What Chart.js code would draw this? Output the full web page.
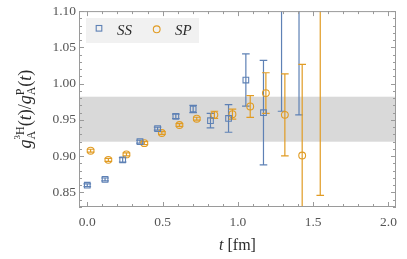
<!DOCTYPE html>
<html>
<head>
<meta charset="utf-8">
<script src="https://cdn.jsdelivr.net/npm/chart.js@4/dist/chart.umd.min.js"></script>
<style>
  html, body { margin: 0; padding: 0; background: #fff; }
  #wrap { width: 407px; height: 259px; }
</style>
</head>
<body>
<div id="wrap"><canvas id="chart" width="407" height="259"></canvas></div>
<script>
// ---- data ----
const ssT   = [0.000, 0.118, 0.235, 0.350, 0.467, 0.588, 0.703, 0.818, 0.938, 1.053, 1.170, 1.290, 1.406];
const ssVal = [0.860, 0.868, 0.895, 0.920, 0.938, 0.955, 0.965, 0.949, 0.952, 1.005, 0.960, 1.140, 1.160];
const ssErr = [0.002, 0.002, 0.003, 0.002, 0.002, 0.003, 0.005, 0.010, 0.019, 0.036, 0.072, 0.178, 0.203];

const spT   = [0.022, 0.140, 0.260, 0.379, 0.495, 0.612, 0.727, 0.844, 0.964, 1.082, 1.186, 1.312, 1.427, 1.547];
const spVal = [0.9076, 0.895, 0.9025, 0.918, 0.932, 0.943, 0.9517, 0.957, 0.958, 0.9686, 0.987, 0.957, 0.901, 1.130];
const spErr = [0.002, 0.002, 0.002, 0.002, 0.002, 0.002, 0.002, 0.005, 0.007, 0.015, 0.028, 0.0565, 0.1255, 0.284];

const bandLow = 0.92;
const bandHigh = 0.982;

const xTicks = [0.0, 0.5, 1.0, 1.5, 2.0];
const yTicks = [0.85, 0.90, 0.95, 1.00, 1.05, 1.10];

const BLUE = '#5e81b5';
const ORANGE = '#e19c24';
const SERIF = '"Liberation Serif", "DejaVu Serif", serif';

// minor ticks, every 0.1 on x and 0.01 on y
const xMinor = [];
for (let i = 0; i <= 20; i++) xMinor.push(i / 10);
const yMinor = [];
for (let i = 83; i <= 110; i++) yMinor.push(i / 100);

const toPoints = (xs, ys, errs) => xs.map((x, i) => ({ x, y: ys[i], err: errs[i] }));

// ----- band behind everything -----
const bandPlugin = {
  id: 'band',
  beforeDatasetsDraw(chart) {
    const { ctx, chartArea: a, scales: { y } } = chart;
    const top = y.getPixelForValue(bandHigh);
    const bot = y.getPixelForValue(bandLow);
    ctx.save();
    ctx.fillStyle = '#d9d9d9';
    ctx.fillRect(a.left, top, a.right - a.left, bot - top);
    ctx.restore();
  }
};

// ----- error bars -----
const errorBarPlugin = {
  id: 'errorBars',
  beforeDatasetsDraw(chart) {
    const { ctx, chartArea: a, scales: { x, y } } = chart;
    ctx.save();
    ctx.beginPath();
    ctx.rect(a.left, a.top, a.right - a.left, a.bottom - a.top);
    ctx.clip();
    chart.data.datasets.forEach(ds => {
      ctx.strokeStyle = ds.borderColor;
      ctx.lineWidth = 1.2;
      ds.data.forEach(p => {
        const px = x.getPixelForValue(p.x);
        const hi = y.getPixelForValue(p.y + p.err);
        const lo = y.getPixelForValue(p.y - p.err);
        ctx.beginPath();
        ctx.moveTo(px, hi); ctx.lineTo(px, lo);
        ctx.moveTo(px - 3.8, hi); ctx.lineTo(px + 3.8, hi);
        ctx.moveTo(px - 3.8, lo); ctx.lineTo(px + 3.8, lo);
        ctx.stroke();
      });
    });
    ctx.restore();
  }
};

// text pieces laid out left to right; "stack" pieces don't advance the pen
function drawRich(ctx, parts, cx, baseline) {
  let w = 0;
  parts.forEach(p => {
    ctx.font = p.font;
    if (p.w === undefined) p.w = ctx.measureText(p.text).width;
    if (!p.stack) w += p.w;
  });
  let xx = cx - w / 2;
  parts.forEach(p => {
    ctx.font = p.font;
    ctx.fillText(p.text, xx + (p.shift || 0), baseline + (p.dy || 0));
    if (!p.stack) xx += p.w;
  });
}

// ----- frame, inward ticks, titles, legend -----
const framePlugin = {
  id: 'frame',
  afterDraw(chart) {
    const { ctx, chartArea: a, scales: { x, y } } = chart;
    ctx.save();
    ctx.strokeStyle = '#9a9a9a';
    ctx.lineWidth = 1;
    ctx.strokeRect(a.left + 0.5, a.top + 0.5, a.right - a.left - 1, a.bottom - a.top - 1);

    ctx.beginPath();
    xMinor.forEach(v => {
      const px = Math.round(x.getPixelForValue(v)) + 0.5;
      const len = xTicks.some(t => Math.abs(t - v) < 1e-9) ? 5 : 3;
      ctx.moveTo(px, a.bottom); ctx.lineTo(px, a.bottom - len);
      ctx.moveTo(px, a.top); ctx.lineTo(px, a.top + len);
    });
    yMinor.forEach(v => {
      const py = Math.round(y.getPixelForValue(v)) + 0.5;
      const len = yTicks.some(t => Math.abs(t - v) < 1e-9) ? 5 : 3;
      ctx.moveTo(a.left, py); ctx.lineTo(a.left + len, py);
      ctx.moveTo(a.right, py); ctx.lineTo(a.right - len, py);
    });
    ctx.stroke();

    // x title
    ctx.fillStyle = '#2a2a2a';
    ctx.textBaseline = 'alphabetic';
    drawRich(ctx, [
      { text: 't', font: 'italic 16px ' + SERIF },
      { text: ' [fm]', font: '16px ' + SERIF }
    ], (a.left + a.right) / 2, 250);

    // y title, rotated
    ctx.save();
    ctx.translate(31, (a.top + a.bottom) / 2);
    ctx.rotate(-Math.PI / 2);
    const big = '18px ' + SERIF;
    const ital = 'italic 18px ' + SERIF;
    const small = '12px ' + SERIF;
    const tiny = '9px ' + SERIF;
    ctx.font = tiny; const w3 = ctx.measureText('3').width;
    ctx.font = small; const wH = ctx.measureText('H').width;
    drawRich(ctx, [
      { text: 'g', font: ital },
      { text: '3', font: tiny, dy: -11, stack: true },
      { text: 'H', font: small, dy: -7, stack: true, shift: w3 },
      { text: 'A', font: small, dy: 4, w: w3 + wH },
      { text: '(', font: big },
      { text: 't', font: ital },
      { text: ')/', font: big },
      { text: 'g', font: ital },
      { text: 'P', font: small, dy: -7, stack: true },
      { text: 'A', font: small, dy: 4 },
      { text: '(', font: big },
      { text: 't', font: ital },
      { text: ')', font: big }
    ], 0, 0);
    ctx.restore();

    // legend
    ctx.fillStyle = 'rgba(240,240,240,0.92)';
    ctx.fillRect(86, 18, 113, 25);
    ctx.lineWidth = 1.1;
    ctx.strokeStyle = BLUE;
    ctx.strokeRect(96.2, 25.5, 5.6, 5.6);
    ctx.strokeStyle = ORANGE;
    ctx.beginPath();
    ctx.arc(156.7, 29.3, 3.4, 0, Math.PI * 2);
    ctx.stroke();
    ctx.fillStyle = '#2a2a2a';
    ctx.font = 'italic 15px ' + SERIF;
    ctx.fillText('SS', 117, 34.5);
    ctx.fillText('SP', 175, 34.5);
    ctx.restore();
  }
};

new Chart(document.getElementById('chart'), {
  type: 'scatter',
  data: {
    datasets: [
      {
        label: 'SS',
        data: toPoints(ssT, ssVal, ssErr),
        pointStyle: 'rect',
        pointRadius: 4,
        borderWidth: 1.1,
        borderColor: BLUE,
        backgroundColor: 'rgba(255,255,255,0)'
      },
      {
        label: 'SP',
        data: toPoints(spT, spVal, spErr),
        pointStyle: 'circle',
        pointRadius: 3.4,
        borderWidth: 1.1,
        borderColor: ORANGE,
        backgroundColor: 'rgba(255,255,255,0)'
      }
    ]
  },
  options: {
    responsive: false,
    animation: false,
    layout: { padding: { top: 11, right: 11, left: 0, bottom: 0 } },
    plugins: { legend: { display: false }, tooltip: { enabled: false } },
    scales: {
      x: {
        type: 'linear',
        min: -0.055,
        max: 2.05,
        afterBuildTicks: (scale) => { scale.ticks = xTicks.map(v => ({ value: v })); },
        afterFit: (scale) => { scale.height = 52; },
        grid: { display: false, drawTicks: false },
        border: { display: false },
        ticks: {
          padding: 7,
          maxRotation: 0,
          autoSkip: false,
          color: '#555',
          font: { family: SERIF, size: 13.5 },
          callback: (v) => Number(v).toFixed(1)
        }
      },
      y: {
        type: 'linear',
        min: 0.83,
        max: 1.10,
        afterBuildTicks: (scale) => { scale.ticks = yTicks.map(v => ({ value: v })); },
        afterFit: (scale) => { scale.width = 79; },
        grid: { display: false, drawTicks: false },
        border: { display: false },
        ticks: {
          padding: 3,
          autoSkip: false,
          color: '#555',
          font: { family: SERIF, size: 13.5 },
          callback: (v) => Number(v).toFixed(2)
        }
      }
    }
  },
  plugins: [bandPlugin, errorBarPlugin, framePlugin]
});
</script>
</body>
</html>
